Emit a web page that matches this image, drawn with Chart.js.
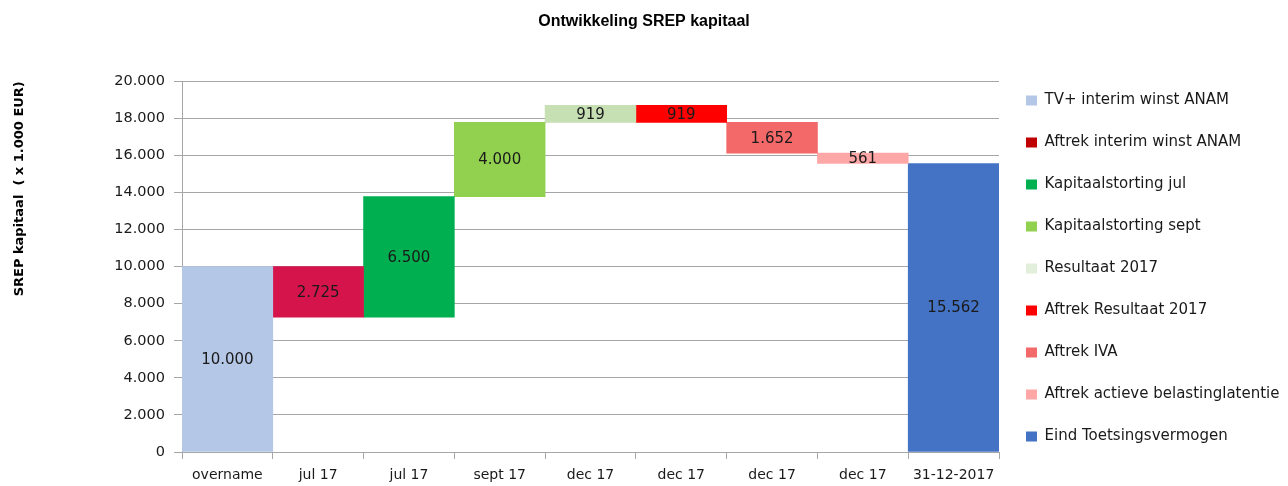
<!DOCTYPE html>
<html>
<head>
<meta charset="utf-8">
<script src="https://cdn.jsdelivr.net/npm/chart.js@4/dist/chart.umd.min.js"></script>
<style>
  body { margin: 0; background: #fff; }
  canvas { display: block; }
</style>
</head>
<body>
<canvas id="grafiek" width="1288" height="486"></canvas>
<script>
// data van de waterval
const categorieen = ['overname', 'jul 17', 'jul 17', 'sept 17', 'dec 17', 'dec 17', 'dec 17', 'dec 17', '31-12-2017']
const reeksNamen = [
  'TV+ interim winst ANAM',
  'Aftrek interim winst ANAM',
  'Kapitaalstorting jul',
  'Kapitaalstorting sept',
  'Resultaat 2017',
  'Aftrek Resultaat 2017',
  'Aftrek IVA',
  'Aftrek actieve belastinglatentie',
  'Eind Toetsingsvermogen'
]
const mutaties = [10000, -2725, 6500, 4000, 919, -919, -1652, -561, 15562]
const isTotaal = [true, false, false, false, false, false, false, false, true]
const yTicks = [0, 2000, 4000, 6000, 8000, 10000, 12000, 14000, 16000, 18000, 20000]

const balkKleuren = ['#b4c7e7', '#d6144c', '#00b050', '#92d050', '#c6e0b4', '#ff0000', '#f36868', '#ffa6a6', '#4472c4']
const legendaKleuren = ['#b4c7e7', '#c00000', '#00b050', '#92d050', '#e2efda', '#ff0000', '#f36868', '#ffa6a6', '#4472c4']

function formatNL(v) {
  return String(Math.round(Math.abs(v))).replace(/\B(?=(\d{3})+(?!\d))/g, '.')
}

// zwevende balken opbouwen: elke reeks heeft maar 1 balk
let stand = 0
const datasets = mutaties.map((m, i) => {
  let van, tot
  if (isTotaal[i]) {
    van = 0
    tot = m
    stand = m
  } else {
    van = stand
    tot = stand + m
    stand = tot
  }
  const data = categorieen.map((c, j) => (j === i ? [van, tot] : null))
  return {
    label: reeksNamen[i],
    data: data,
    backgroundColor: balkKleuren[i],
    borderWidth: 0,
    grouped: false,
    barPercentage: 1,
    categoryPercentage: 1
  }
})

// labels midden in de balken
const waardeLabels = {
  id: 'waardeLabels',
  afterDatasetsDraw(chart) {
    const ctx = chart.ctx
    ctx.save()
    ctx.font = '15px "DejaVu Sans"'
    ctx.fillStyle = '#1a1a1a'
    ctx.textAlign = 'center'
    ctx.textBaseline = 'middle'
    chart.data.datasets.forEach((ds, i) => {
      const meta = chart.getDatasetMeta(i)
      meta.data.forEach((el, j) => {
        if (!ds.data[j]) return
        const { x, y, base } = el.getProps(['x', 'y', 'base'], true)
        ctx.fillText(formatNL(mutaties[i]), x, (y + base) / 2 + 1)
      })
    })
    ctx.restore()
  }
}

const witteAchtergrond = {
  id: 'witteAchtergrond',
  beforeDraw(chart) {
    const ctx = chart.ctx
    ctx.save()
    ctx.fillStyle = '#fff'
    ctx.fillRect(0, 0, chart.width, chart.height)
    ctx.restore()
  }
}

new Chart(document.getElementById('grafiek'), {
  type: 'bar',
  data: {
    labels: categorieen,
    datasets: datasets
  },
  options: {
    responsive: false,
    animation: false,
    layout: { padding: 0 },
    scales: {
      x: {
        grid: {
          drawOnChartArea: false,
          tickLength: 7,
          color: '#a6a6a6'
        },
        border: { color: '#a6a6a6' },
        ticks: {
          color: '#1a1a1a',
          font: { family: 'DejaVu Sans', size: 14 },
          padding: 8,
          maxRotation: 0
        },
        afterFit(scale) { scale.height = 34 }
      },
      y: {
        min: 0,
        max: 20000,
        afterBuildTicks(scale) { scale.ticks = yTicks.map(v => ({ value: v })) },
        grid: {
          color: '#a6a6a6',
          tickLength: 8
        },
        border: { color: '#a6a6a6' },
        ticks: {
          color: '#1a1a1a',
          font: { family: 'DejaVu Sans', size: 14.5 },
          padding: 9,
          callback: v => formatNL(v)
        },
        title: {
          display: true,
          text: 'SREP kapitaal  ( x 1.000 EUR)',
          align: 'end',
          color: '#000',
          font: { family: 'DejaVu Sans', size: 13, weight: 'bold' },
          padding: { top: 12, bottom: 0 }
        },
        afterFit(scale) { scale.width = 182 }
      }
    },
    plugins: {
      title: {
        display: true,
        text: 'Ontwikkeling SREP kapitaal',
        color: '#000',
        font: { family: 'Liberation Sans', size: 16, weight: 'bold' },
        padding: { top: 12, bottom: 50 }
      },
      legend: {
        position: 'right',
        align: 'start',
        maxWidth: 289,
        title: {
          display: true,
          text: ' ',
          font: { size: 10 },
          padding: { top: 27, bottom: 27 }
        },
        labels: {
          boxWidth: 11,
          boxHeight: 10,
          padding: 27,
          color: '#1a1a1a',
          font: { family: 'DejaVu Sans', size: 15 },
          generateLabels(chart) {
            const items = Chart.defaults.plugins.legend.labels.generateLabels(chart)
            items.forEach((it, i) => {
              it.fillStyle = legendaKleuren[i]
              it.strokeStyle = legendaKleuren[i]
              it.lineWidth = 0
            })
            return items
          }
        }
      },
      tooltip: { enabled: false }
    }
  },
  plugins: [witteAchtergrond, waardeLabels]
})
</script>
</body>
</html>
